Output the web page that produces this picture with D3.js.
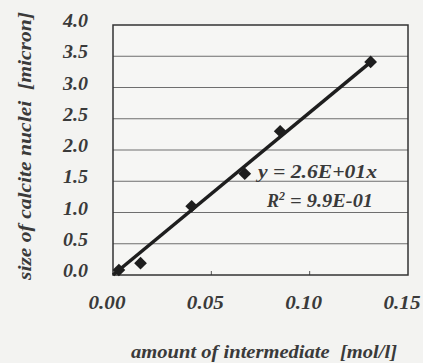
<!DOCTYPE html>
<html lang="en">
<head>
    <meta charset="UTF-8">
    <title>Calcite nuclei size</title>
    <style>
        body { margin: 0; background: #f3f3f1; }
        text { font-family: "Liberation Serif", "Times New Roman", serif; font-weight: bold; font-style: italic; fill: #3a3a3a; }
    </style>
    <script src="https://d3js.org/d3.v7.min.js"></script>
</head>
<body>
    <svg width="423" height="363"></svg>
    <script>
        // measured points
        const amount = [0.003, 0.014, 0.040, 0.067, 0.085, 0.131];
        const size = [0.08, 0.19, 1.10, 1.62, 2.30, 3.41];
        const slope = 26;
        const xTicks = [0.00, 0.05, 0.10, 0.15];
        const yTicks = [0.0, 0.5, 1.0, 1.5, 2.0, 2.5, 3.0, 3.5, 4.0];

        const svg = d3.select("svg");
        const plotL = 113, plotR = 408, plotT = 25, plotB = 275;

        const x = d3.scaleLinear().domain([0, 0.15]).range([plotL, plotR]);
        const y = d3.scaleLinear().domain([0, 4]).range([plotB, plotT]);

        svg.append("rect")
            .attr("x", plotL).attr("y", plotT)
            .attr("width", plotR - plotL).attr("height", plotB - plotT)
            .attr("fill", "#f6f6f4");

        // gridlines
        svg.selectAll(".grid")
            .data(yTicks.slice(1, -1))
            .enter()
            .append("line")
            .attr("x1", plotL).attr("x2", plotR)
            .attr("y1", d => y(d)).attr("y2", d => y(d))
            .attr("stroke", "#6e6e6e")
            .attr("stroke-width", 1);

        // small ticks on bottom axis
        svg.selectAll(".xt")
            .data(xTicks.slice(1, -1))
            .enter()
            .append("line")
            .attr("x1", d => x(d)).attr("x2", d => x(d))
            .attr("y1", plotB).attr("y2", plotB - 4)
            .attr("stroke", "#555");

        svg.append("rect")
            .attr("x", plotL).attr("y", plotT)
            .attr("width", plotR - plotL).attr("height", plotB - plotT)
            .attr("fill", "none")
            .attr("stroke", "#333")
            .attr("stroke-width", 1.5);

        svg.selectAll(".yl")
            .data(yTicks)
            .enter()
            .append("text")
            .attr("x", 88)
            .attr("y", d => y(d) + 2)
            .attr("text-anchor", "end")
            .attr("font-size", 18)
            .attr("textLength", 25)
            .attr("lengthAdjust", "spacingAndGlyphs")
            .text(d => d.toFixed(1));

        svg.selectAll(".xl")
            .data(xTicks)
            .enter()
            .append("text")
            .attr("x", d => x(d) - 6)
            .attr("y", 309)
            .attr("text-anchor", "middle")
            .attr("font-size", 18)
            .attr("textLength", 37)
            .attr("lengthAdjust", "spacingAndGlyphs")
            .text(d => d.toFixed(2));

        // trend line y = 26x
        const xEnd = d3.max(amount);
        svg.append("line")
            .attr("x1", x(0)).attr("y1", y(0))
            .attr("x2", x(xEnd)).attr("y2", y(slope * xEnd))
            .attr("stroke", "#1e1e1e")
            .attr("stroke-width", 3.5);

        svg.selectAll(".pt")
            .data(amount)
            .enter()
            .append("path")
            .attr("d", d3.symbol(d3.symbolSquare, 81))
            .attr("transform", (d, i) => `translate(${x(d)},${y(size[i])}) rotate(45)`)
            .attr("fill", "#1e1e1e");

        svg.append("text")
            .attr("x", 258).attr("y", 178)
            .attr("font-size", 18)
            .attr("textLength", 119)
            .attr("lengthAdjust", "spacingAndGlyphs")
            .text("y = 2.6E+01x");

        const r2 = svg.append("text")
            .attr("x", 267).attr("y", 207)
            .attr("font-size", 18);
        r2.append("tspan").text("R");
        r2.append("tspan").attr("dy", -7).attr("font-size", 12).text("2");
        r2.append("tspan").attr("dy", 7).attr("textLength", 88)
            .attr("lengthAdjust", "spacingAndGlyphs").text(" = 9.9E-01");

        svg.append("text")
            .attr("transform", "translate(31,146) rotate(-90)")
            .attr("text-anchor", "middle")
            .attr("font-size", 18)
            .attr("xml:space", "preserve")
            .attr("textLength", 268)
            .attr("lengthAdjust", "spacingAndGlyphs")
            .text("size of calcite nuclei  [micron]");

        svg.append("text")
            .attr("x", 264).attr("y", 358)
            .attr("text-anchor", "middle")
            .attr("font-size", 18)
            .attr("xml:space", "preserve")
            .attr("textLength", 266)
            .attr("lengthAdjust", "spacingAndGlyphs")
            .text("amount of intermediate  [mol/l]");
    </script>
</body>
</html>
